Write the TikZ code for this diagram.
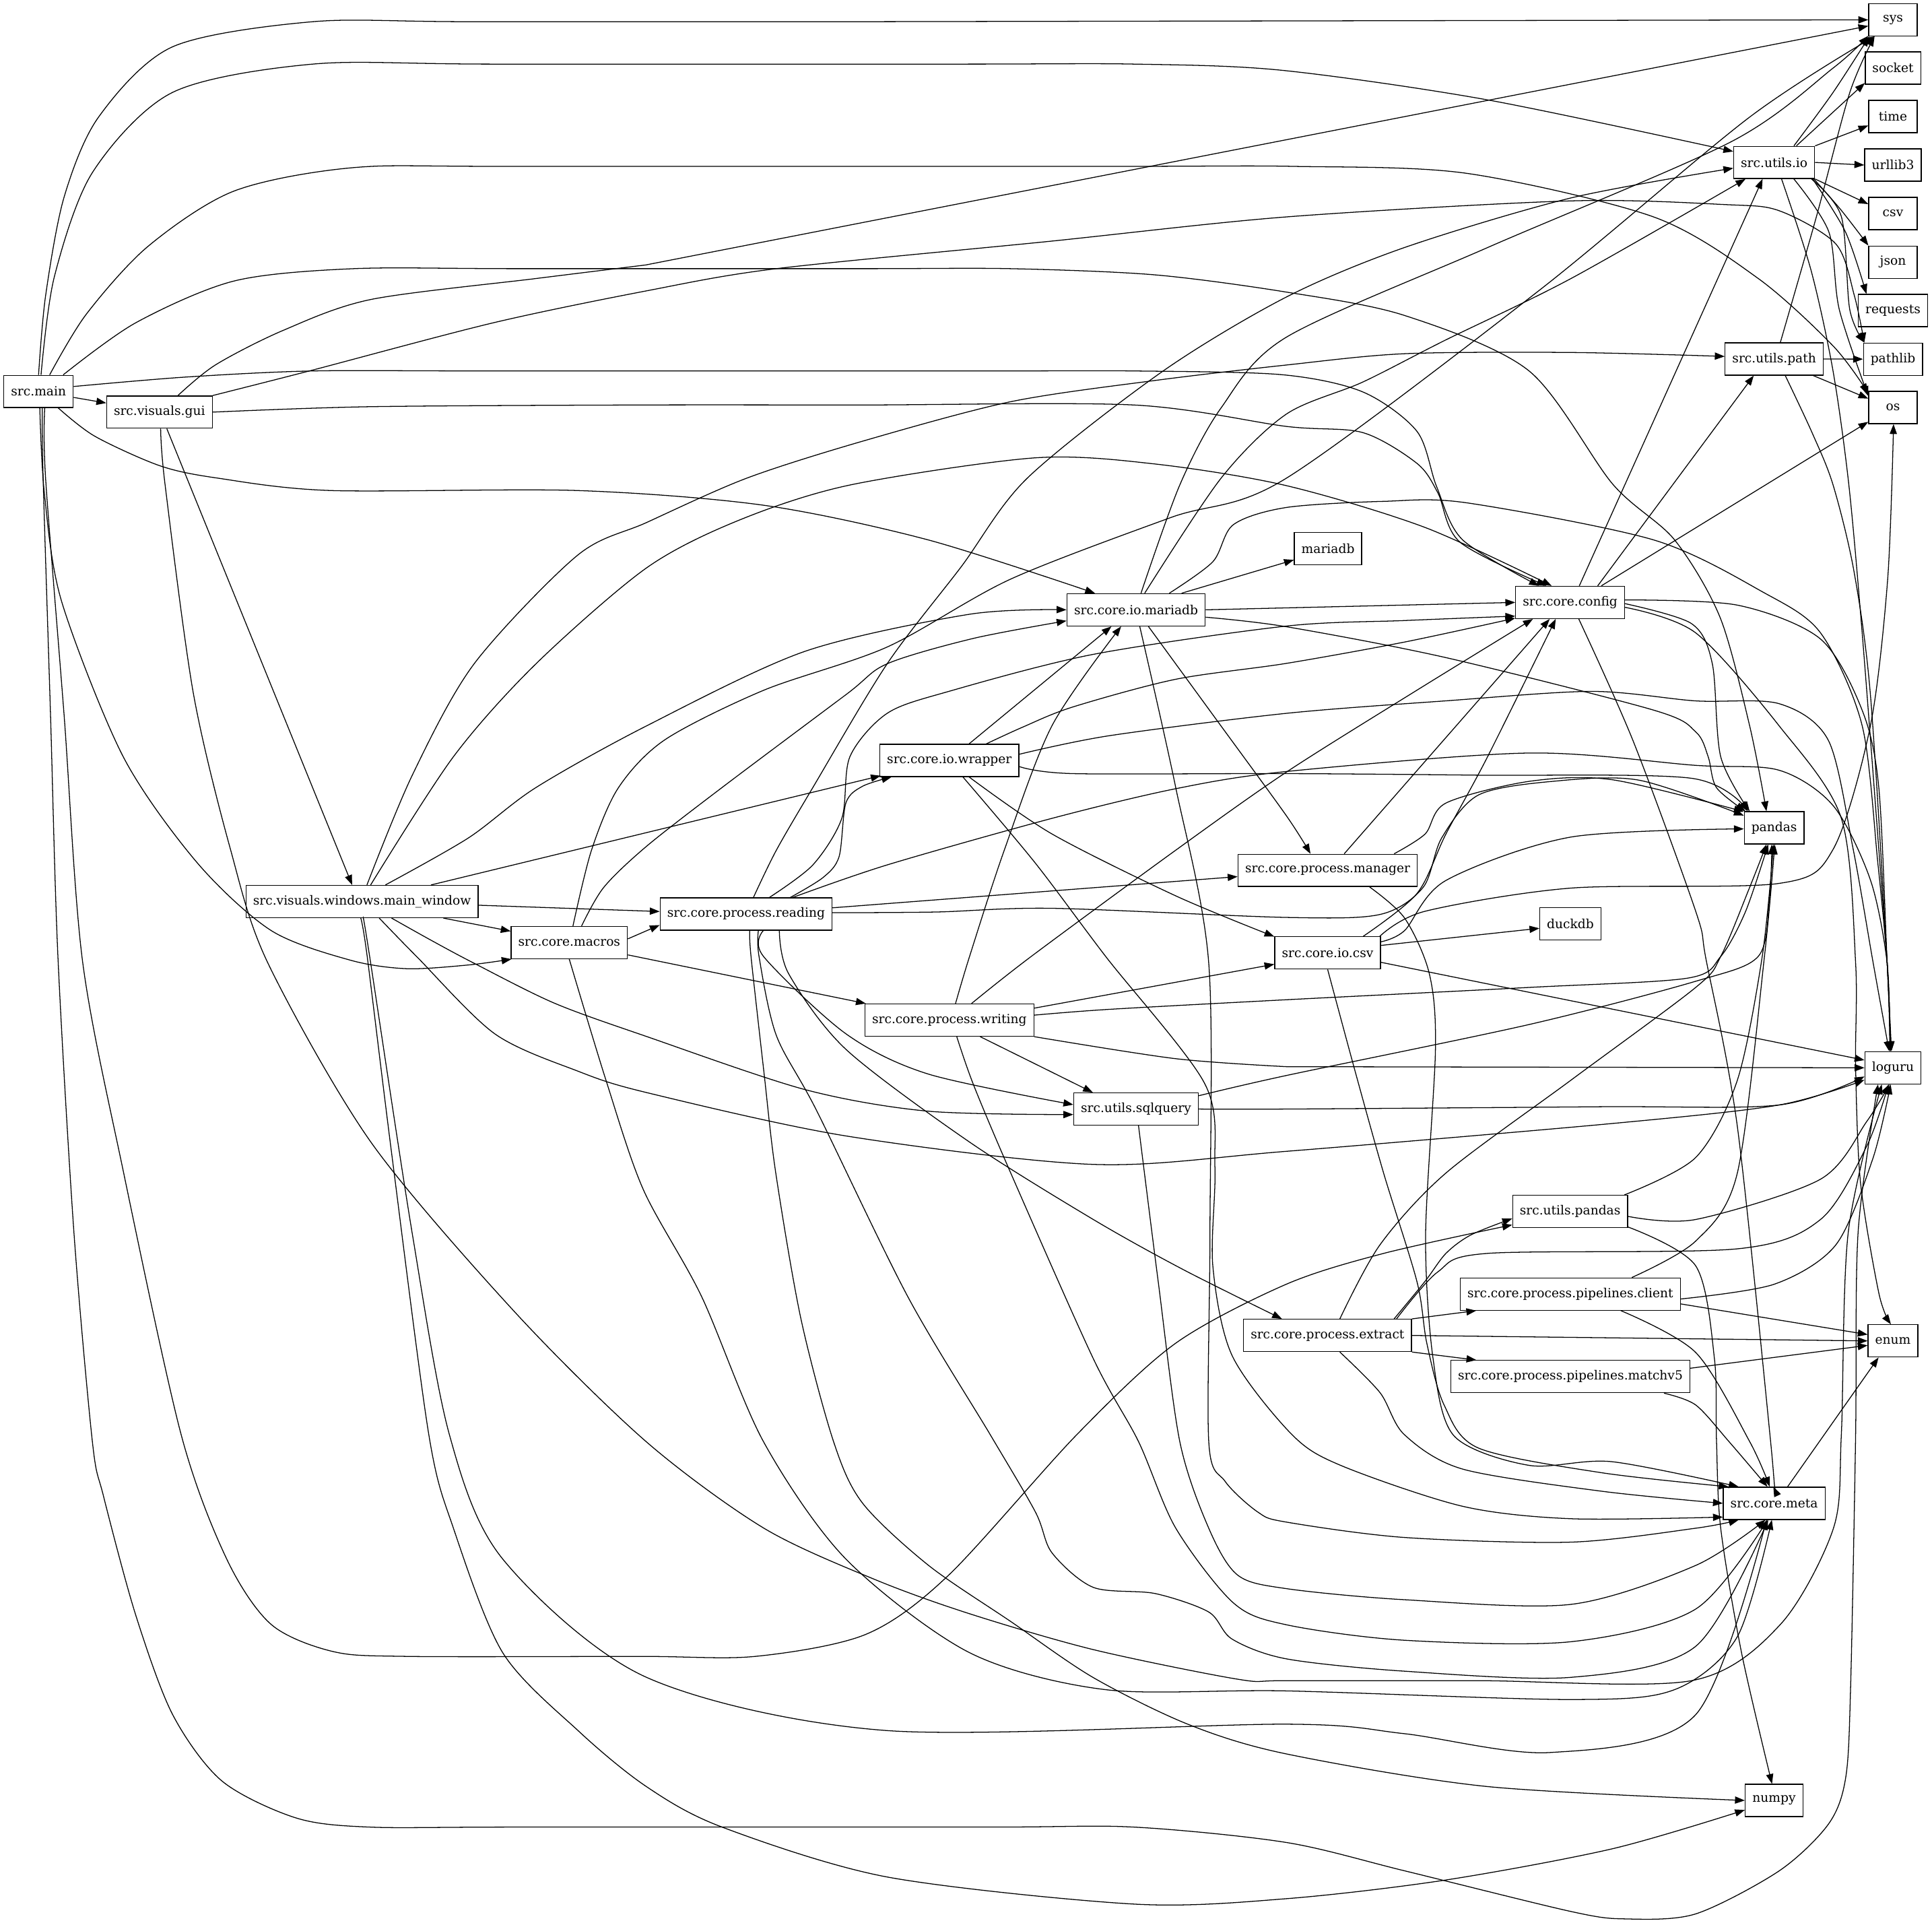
\documentclass[tikz,border=0pt]{standalone}
\usepackage{fontspec}
\setmainfont{DejaVu Serif}
\usetikzlibrary{arrows.meta}
\begin{document}
\begin{tikzpicture}[x=1pt,y=-1pt,
  nd/.style={draw,line width=0.7pt,minimum height=26.2pt,minimum width=39.4pt,inner xsep=5.8pt,inner ysep=0pt,font=\fontsize{10.2}{12}\selectfont},
  edg/.style={draw,line width=0.7pt,-{Triangle[length=8pt,width=5.8pt]}},
  sm/.style={smooth,tension=0.5}]
\fill[white] (0,0) rectangle (1568,1560);
\useasboundingbox (0,0) rectangle (1568,1560);
% nodes
\node[nd] (main) at (31.3,317.6) {src.main};
\node[nd] (gui) at (129.4,334.4) {src.visuals.gui};
\node[nd] (mw) at (293.8,731.5) {src.visuals.windows.main\_window};
\node[nd] (macros) at (462,764.8) {src.core.macros};
\node[nd] (reading) at (605.5,741.6) {src.core.process.reading};
\node[nd] (wrapper) at (770.5,617) {src.core.io.wrapper};
\node[nd] (writing) at (770.5,827.7) {src.core.process.writing};
\node[nd] (iom) at (922,494.8) {src.core.io.mariadb};
\node[nd] (sqlq) at (922,899.9) {src.utils.sqlquery};
\node[nd] (mgr) at (1077.5,706.2) {src.core.process.manager};
\node[nd] (csvm) at (1077.5,773.2) {src.core.io.csv};
\node[nd] (extract) at (1077.4,1083.6) {src.core.process.extract};
\node[nd] (mdb) at (1077.8,445.3) {mariadb};
\node[nd] (config) at (1274.3,488.8) {src.core.config};
\node[nd] (duck) at (1274.5,749.7) {duckdb};
\node[nd] (upd) at (1274.3,983) {src.utils.pandas};
\node[nd] (client) at (1274.4,1050) {src.core.process.pipelines.client};
\node[nd] (match) at (1274.5,1117) {src.core.process.pipelines.matchv5};
\node[nd] (uio) at (1439.9,131.8) {src.utils.io};
\node[nd] (upath) at (1439.9,291.3) {src.utils.path};
\node[nd] (pandas) at (1439.9,671.7) {pandas};
\node[nd] (meta) at (1439.9,1219.8) {src.core.meta};
\node[nd] (numpy) at (1439.8,1460.9) {numpy};
\node[nd] (sys) at (1536.3,16.1) {sys};
\node[nd] (socket) at (1536.3,55.2) {socket};
\node[nd] (time) at (1536.3,94.6) {time};
\node[nd] (urllib) at (1536.3,133.9) {urllib3};
\node[nd] (csvlib) at (1536.3,173.3) {csv};
\node[nd] (json) at (1536.3,212.7) {json};
\node[nd] (requests) at (1536.3,252) {requests};
\node[nd] (pathlib) at (1536.3,291.4) {pathlib};
\node[nd] (os) at (1536.3,330.7) {os};
\node[nd] (loguru) at (1536.3,866.4) {loguru};
\node[nd] (enum) at (1536.3,1088) {enum};
% src.main
\draw[edg] plot[sm] coordinates {(main.north) (37,240) (52,160) (80,95) (140,38) (254,17.6) (380,17.6) (700,17.6)} -- (sys.west);
\draw[edg] plot[sm] coordinates {([xshift=2pt]main.north) (44,225) (75,140) (140,75) (254,52) (400,52) (780,52) (920,52) (1040,57) (1207,81) (uio.165)};
\draw[edg] plot[sm] coordinates {([xshift=9pt]main.north) (70,255) (120,200) (190,155) (287,136) (420,135) (900,135) (1050,135) (1190,140.6) (1342,176) (1427,226) (1488,281) (os.150)};
\draw[edg] plot[sm] coordinates {([xshift=20pt]main.north) (110,262) (190,228) (287,218) (420,218) (700,218) (820,218) (937,223) (1044,237) (1140,256) (1241,301) (1309,393) (1359,438) (1396,501) (1420,589) (pandas.115)};
\draw[edg] plot[sm] coordinates {([yshift=4pt]main.east) (150,306) (254,301) (400,301) (800,301) (920,301) (1040,304) (1106,318) (1150,350) (1166,395) (1187,438) (config.152)};
\draw[edg] (main) -- (gui);
\draw[edg] plot[sm] coordinates {([xshift=16pt]main.south) (77,354) (130,378) (177,388) (268,398) (468,398) (620,410) (753,438) (iom.158)};
\draw[edg] plot[sm] coordinates {([xshift=1pt]main.south) (36,400) (50,488) (100,614) (160,700) (220,755) (284,779) (330,786) (380,783) (macros.196)};
\draw[edg] plot[sm] coordinates {([xshift=5pt]main.south) (37,388) (52,580) (67,780) (100,950) (147,1164) (184,1265) (220,1318) (270,1340) (330,1344) (520,1344) (613,1344) (703,1326) (770,1278) (874,1164) (954,1090) (1044,1042) (1123,1017) (upd.193)};
\draw[edg] plot[sm] coordinates {([xshift=3pt]main.south) (35,388) (41,580) (47,776) (60,1000) (75,1170) (84,1214) (110,1310) (140,1391) (180,1445) (240,1475) (300,1482.5) (420,1482.5) (800,1482.5) (920,1482.5) (1044,1495) (1140,1518) (1275,1551) (1319,1557) (1376,1553) (1444,1518) (1484,1480) (1498,1442) (1502,1366) (1506,1164) (1508,1000) (loguru.228)};
% gui
\draw[edg] plot[sm] coordinates {([xshift=15pt]gui.north) (175,296) (230,268) (301,243) (435,226) (524,215)} -- (sys.194);
\draw[edg] plot[sm] coordinates {(gui.north east) (251,301) (400,262) (524.7,236) (630,218) (850,196) (1044,176) (1275,163) (1400,166) (1444,171) (1490,198) (1505,240) (pathlib.150)};
\draw[edg] plot[sm] coordinates {(gui.east) (300,330) (519,328.6) (700,328.6) (920,328.6) (1044,346) (1106,351) (1150,376) (1167,400) (1185,440) (config.145)};
\draw[edg] ([xshift=6pt]gui.south) -- ([xshift=-8pt]mw.north);
\draw[edg] plot[sm] coordinates {([xshift=1pt]gui.south) (134,393.5) (157,563) (187,689) (217.5,781.6) (301,926.7) (418,1064.8) (524.7,1170) (620,1240) (710,1281.6) (786.9,1309.4) (887.3,1338.5) (1004.4,1362.5) (1044,1363.7) (1200,1363.7) (1372.8,1363.7) (1445,1318) (1488,1240) (1494.4,1164.1) (1500,1000) (loguru.236)};
% main_window
\draw[edg] plot[sm] coordinates {([xshift=4pt]mw.north) (334.6,629) (384.8,538.6) (468.4,450.8) (524.7,424) (606,388) (700,358) (820,326) (937.5,308.7) (1043.8,296.2) (1140,287) (1275,286) (upath.177)};
\draw[edg] plot[sm] coordinates {([xshift=7pt]mw.north) (368,614) (435,538.6) (524.7,460.8) (600,422) (690,393.5) (840,371.5) (937.5,376.5) (1043.8,394) (1156.6,428) (config.138)};
\draw[edg] plot[sm] coordinates {([xshift=19pt]mw.north) (380,680) (435,639) (524.7,589) (653,528.6) (786.9,498.4) (iom.180)};
\draw[edg] ([xshift=56pt]mw.north) -- ([xshift=1pt,yshift=1pt]wrapper.south west);
\draw[edg] ([yshift=-3pt]mw.east) -- ([yshift=2pt]reading.west);
\draw[edg] ([xshift=66pt]mw.south) -- (macros.169);
\draw[edg] plot[sm] coordinates {([xshift=24pt]mw.south) (350,763) (384.8,781.6) (450,814) (524.7,841) (653,884) (753,901.6) (sqlq.185)};
\draw[edg] plot[sm] coordinates {([xshift=14pt]mw.south) (338,776) (401.5,838.8) (468.4,868.9) (524.7,886.5) (686.5,921.7) (887.3,944.8) (1043.8,934.2) (1308.6,911.6) (1443.8,896.6) (loguru.203)};
\draw[edg] plot[sm] coordinates {([xshift=-1pt]mw.south) (298,776) (318,937) (348,1164) (368,1240) (408,1341) (470,1405) (524.7,1449.7) (586,1482.5) (720,1523) (920.7,1545) (1044,1540.6) (1173,1525.5) (1309,1500) (numpy.198)};
\draw[edg] plot[sm] coordinates {([xshift=1pt]mw.south) (300,776) (334.6,1001) (364.7,1164) (408,1265) (524.7,1361) (720,1404.2) (1043.8,1399) (1139.7,1406.7) (1258,1422) (1376,1391.5) (meta.245)};
% macros
\draw[edg] plot[sm] coordinates {([xshift=10pt]macros.north) (490,720) (524.7,686.7) (586,639) (686.5,563.7) (720,538.6) (790,518) (iom.189)};
\draw[edg] plot[sm] coordinates {([xshift=3pt]macros.north) (480,690) (502,639) (540,600) (620,560) (720,525) (820,470) (950,420) (1044,388) (1250,235) (1420,95) (sys.222)};
\draw[edg] ([yshift=3pt]macros.east) -- ([yshift=-9pt]reading.west);
\draw[edg] ([yshift=-10pt]macros.east) -- ([xshift=1pt]writing.north west);
\draw[edg] plot[sm] coordinates {(macros.south) (491.8,876.5) (522,965) (569.4,1052) (619.6,1169.7) (686.5,1265) (786.9,1341) (897.3,1371) (1044,1372) (1275,1379) (1359,1371) (1410,1328) (meta.262)};
% reading
\draw[edg] plot[sm] coordinates {([xshift=6pt]reading.north) (630,690) (659.7,639) (720,538.6) (780,460) (833.7,388) (944,301) (1044,241) (1140,200.8) (1275,160.6) (uio.188)};
\draw[edg] plot[sm] coordinates {([xshift=19pt]reading.north) (659.7,701.8) (683.2,664) (689.8,613.9) (720,578.8) (770,561) (887,531) (1044,508) (1140,503.5) (config.194)};
\draw[edg] plot[sm] coordinates {([xshift=36pt]reading.north) (668,712) (681,695) (686.5,651.6) (700,638) (wrapper.196)};
\draw[edg] ([yshift=5pt]reading.east) -- (mgr.184);
\draw[edg] plot[sm] coordinates {([xshift=14pt]reading.south) (619.6,776) (686.5,838.8) (753.4,871.5) (sqlq.176)};
\draw[edg] plot[sm] coordinates {([xshift=27pt]reading.south) (640,790) (686.5,851.4) (786.9,926.7) (887.3,989.5) (960,1030) (extract.160)};
\draw[edg] plot[sm] coordinates {([xshift=10pt]reading.south) (616,776) (630,840) (663,901.6) (736.7,1052) (803.6,1164) (840.4,1227) (853.8,1260) (887.3,1288) (937.5,1293) (981,1308) (1000,1330) (1044,1346) (1139.7,1356) (1274.9,1361) (1376,1336) (meta.250)};
\draw[edg] plot[sm] coordinates {([xshift=38pt]reading.north) (720,701.8) (853.8,664) (954,640) (1044,626) (1241,611) (1376,621) (1444,625) (1488,654) (1518,714) (1531.6,781.6) (loguru.100)};
\draw[edg] plot[sm] coordinates {([yshift=1pt]reading.east) (760,740) (853.8,737) (1044,744.4) (1120,742) (1155,720) (1170,680) (1200,645) (1260,634) (1330,633) (pandas.158)};
\draw[edg] plot[sm] coordinates {([xshift=3pt]reading.south) (609.5,776) (620,870) (629.6,951.8) (650,1070) (676.5,1169.7) (700,1219.6) (753.4,1270) (820.3,1315.7) (887.3,1361.2) (964.2,1399.1) (1043.8,1423.1) (1207,1449.6) (numpy.180)};
% wrapper
\draw[edg] ([xshift=16pt]wrapper.north) -- (iom.214);
\draw[edg] plot[sm] coordinates {([xshift=30pt]wrapper.north) (830,590) (870.5,573.7) (954,551.2) (1043.8,538.3) (1139.7,521) (config.196)};
\draw[edg] plot[sm] coordinates {([yshift=5pt]wrapper.east) (900,597) (1044,578.8) (1173,568.7) (1292,561) (1376,568.7) (1444,571) (1484,601) (1504,689) (1520,780) (loguru.103)};
\draw[edg] plot[sm] coordinates {([yshift=-5pt]wrapper.east) (870.5,627.7) (1044,627.7) (1200,629) (1372.8,631.5) (pandas.148)};
\draw[edg] plot[sm] coordinates {([xshift=16pt]wrapper.south) (853.8,676.7) (954.2,726.9) (csvm.163)};
\draw[edg] plot[sm] coordinates {([xshift=11pt]wrapper.south) (840,700) (897.3,776) (977.6,879) (986,946.8) (984.3,1027) (1000,1100) (1048.5,1164) (1089,1189.4) (1187,1222.2) (1274.9,1232.3) (meta.195)};
% core.io.mariadb
\draw[edg] plot[sm] coordinates {([xshift=4pt]iom.north) (957.5,393.5) (991,331) (1044,273.6) (1207,201) (1405,115) (1488,55) (sys.213)};
\draw[edg] plot[sm] coordinates {([xshift=7pt]iom.north) (991,388) (1044,336) (1106,310) (1173,276) (1275,226) (uio.210)};
\draw[edg] plot[sm] coordinates {([xshift=27pt]iom.north) (984.3,455.8) (1001,425.7) (1043.8,411.8) (1122.9,406.8) (1190.4,408) (1342.4,438.2) (1430,480) (1477.5,513.5) (1511.3,588.8) (1524,700) (1531.6,781.6) (loguru.97)};
\draw[edg] (iom.20) -- (mdb.198);
\draw[edg] (iom.east) -- (config.west);
\draw[edg] plot[sm] coordinates {([yshift=-6pt]iom.east) (1043.8,508.5) (1173.5,533.6) (1342.4,576.3) (1376.2,593.8) (1386.3,613.9) (1393,639) (pandas.150)};
\draw[edg] plot[sm] coordinates {([xshift=10pt]iom.south) (988,585) (1043.8,661.6) (mgr.136)};
\draw[edg] plot[sm] coordinates {([xshift=3pt]iom.south) (954.2,639) (981,781.6) (982,1000) (981,1169.7) (994.3,1202) (1021,1227) (1043.8,1235) (1139.7,1247.5) (1274.9,1251.3) (1376.2,1240) (meta.205)};
% writing
\draw[edg] plot[sm] coordinates {([xshift=5pt]writing.north) (786.9,776) (815,690) (853.8,588.8) (iom.228)};
\draw[edg] plot[sm] coordinates {([xshift=18pt]writing.north) (837,776) (954,690) (1044,626.5) (1150,560) (config.204)};
\draw[edg] (writing.8) -- (csvm.192);
\draw[edg] plot[sm] coordinates {([yshift=4pt]writing.east) (900,819) (1043.8,811.2) (1241,801.2) (1369.4,793.7) (1396.5,776.1) (1416.7,739.5) (pandas.250)};
\draw[edg] plot[sm] coordinates {(writing.south east) (954,859) (1044,865.5)} -- (loguru.west);
\draw[edg] ([xshift=25pt]writing.south) -- (sqlq.159);
\draw[edg] plot[sm] coordinates {([xshift=6pt]writing.south) (790,880) (820.3,951.8) (887.3,1102.4) (924,1169.7) (954.2,1239.9) (1001,1300.6) (1043.8,1318.3) (1139.7,1330.9) (1274.9,1332.1) (1376.2,1305.6) (meta.248)};
% sqlquery
\draw[edg] plot[sm] coordinates {(sqlq.12) (1043.8,872.7) (1241,831.3) (1376.2,796.2) (1426.9,776.1) (1436,730) (pandas.262)};
\draw[edg] plot[sm] coordinates {(sqlq.east) (1043.8,899.9) (1300,898) (1443.8,896.6) (loguru.197)};
\draw[edg] plot[sm] coordinates {([xshift=2pt]sqlq.south) (940,1040) (957.5,1169.7) (981,1240) (1004.4,1278) (1043.8,1289) (1139.7,1298) (1274.9,1301.8) (1376.2,1270.2) (meta.242)};
% core.io.csv
\draw[edg] (csvm.8) -- (duck.188);
\draw[edg] plot[sm] coordinates {([xshift=-1pt]csvm.north east) (1156.6,739.4) (1274.9,720.6) (1443.8,716.8) (1487.7,689.2) (1518,588.8) (1532,470) (os.272)};
\draw[edg] plot[sm] coordinates {(csvm.25) (1150,725) (1173.5,676.7) (1207.3,614) (config.229)};
\draw[edg] plot[sm] coordinates {([yshift=9pt]csvm.east) (1140,755) (1173.5,714.4) (1274.9,679.2) (pandas.182)};
\draw[edg] (csvm.350) -- (loguru.165);
\draw[edg] plot[sm] coordinates {(csvm.south) (1100,870) (1122.9,951.8) (1150,1040) (1158,1090) (1172,1140) (1200,1175) (1300,1195) (meta.160)};
% manager
\draw[edg] (mgr.45) -- (config.219);
\draw[edg] plot[sm] coordinates {(mgr.14) (1156.6,676.7) (1173.5,651.6) (1241,634) (1308.6,632.7) (pandas.152)};
\draw[edg] plot[sm] coordinates {([xshift=34pt]mgr.south) (1140,745) (1160,790) (1165,851) (1157,1002) (1163,1102) (1180,1165) (1241,1189) (1308,1186) (meta.155)};
% extract
\draw[edg] plot[sm] coordinates {([xshift=10pt]extract.north) (1120,1010) (1173.5,951.8) (1274.9,876.5) (1376.2,801.2) (1396.5,776.1) (1420,720) (pandas.245)};
\draw[edg] plot[sm] coordinates {([xshift=54pt]extract.north) (1156.6,1039.6) (1173.5,1017) (1193.8,1002) (upd.187)};
\draw[edg] plot[sm] coordinates {([xshift=56pt]extract.north) (1166.8,1032.1) (1207.3,1017) (1410,1013.3) (1477.5,989.5) (1515,930) (loguru.255)};
\draw[edg] (extract.north east) -- (client.190);
\draw[edg] (extract.east) -- (enum.west);
\draw[edg] (extract.south east) -- (match.170);
\draw[edg] plot[sm] coordinates {([xshift=10pt]extract.south) (1120,1130) (1139.7,1164) (1187,1192) (1300,1210) (meta.180)};
% utils.pandas
\draw[edg] plot[sm] coordinates {(upd.17) (1376.2,939.2) (1410,876.5) (1430.2,776.1) (pandas.268)};
\draw[edg] plot[sm] coordinates {([yshift=-4pt]upd.east) (1376.2,989.5) (1477.5,956.8) (1515,910) (loguru.258)};
\draw[edg] plot[sm] coordinates {(upd.345) (1376.2,1027.1) (1391.4,1102.4) (1393.1,1169.7) (1396.5,1240) (1413.4,1341) (numpy.97)};
% client
\draw[edg] plot[sm] coordinates {([xshift=50pt]client.north) (1376.2,1007) (1410,951.8) (1432,776.1) (pandas.272)};
\draw[edg] plot[sm] coordinates {([yshift=-4pt]client.east) (1440,1042) (1490,1010) (1520,940) (loguru.262)};
\draw[edg] ([yshift=-8pt]client.east) -- (enum.166);
\draw[edg] plot[sm] coordinates {([xshift=41pt]client.south) (1376.2,1097.4) (1420,1169.7) (meta.105)};
% matchv5
\draw[edg] (match.4) -- (enum.190);
\draw[edg] plot[sm] coordinates {([xshift=76pt]match.south) (1376.2,1140) (1403.2,1169.7) (meta.112)};
% meta
\draw[edg] (meta.51) -- (enum.229);
% config
\draw[edg] (config.61) -- (uio.235);
\draw[edg] (config.31) -- (upath.219);
\draw[edg] (config.28) -- (os.210);
\draw[edg] plot[sm] coordinates {([yshift=2pt]config.east) (1410,491) (1477.5,518.5) (1511.3,576.3) (1524.8,639) (1531.6,781.6) (loguru.95)};
\draw[edg] plot[sm] coordinates {([yshift=-1pt]config.east) (1372.8,506) (1389.7,538.6) (1396.5,614) (pandas.146)};
\draw[edg] plot[sm] coordinates {([yshift=-4pt]config.east) (1376.2,513.5) (1443.8,588.8) (1494.4,664) (1506,781.6) (1506,866) (1510,960) (1525,1050) (enum.97)};
\draw[edg] plot[sm] coordinates {([xshift=7pt]config.south) (1325.5,601.4) (1376.2,739.4) (1384.7,779) (1410,914) (1437,1169.7) (meta.93)};
% utils.io
\draw[edg] plot[sm] coordinates {([xshift=16pt]uio.north) (1487.7,75) (sys.215)};
\draw[edg] ([xshift=18pt]uio.north) -- (socket.208);
\draw[edg] (uio.north east) -- (time.200);
\draw[edg] (uio.east) -- (urllib.west);
\draw[edg] (uio.south east) -- (csvlib.159);
\draw[edg] plot[sm] coordinates {([xshift=-1pt]uio.south east) (1494.4,170.7) (json.146)};
\draw[edg] plot[sm] coordinates {([xshift=-2pt]uio.south east) (1497.8,188.3) (requests.148)};
\draw[edg] plot[sm] coordinates {([xshift=-3pt]uio.south east) (1494.4,175.7) (1501.2,251) (pathlib.150)};
\draw[edg] plot[sm] coordinates {([xshift=16pt]uio.south) (1484.3,188.3) (1492.7,251) (os.155)};
\draw[edg] plot[sm] coordinates {([xshift=6pt]uio.south) (1470,220) (1487.7,301.2) (1500.5,393.5) (1511.3,513.5) (1524.8,689) (1531.6,781.6) (loguru.98)};
% utils.path
\draw[edg] plot[sm] coordinates {([xshift=5pt]upath.north) (1474.2,175.7) (1501.2,75.3) (sys.222)};
\draw[edg] (upath.east) -- (pathlib.west);
\draw[edg] (upath.337) -- (os.160);
\draw[edg] plot[sm] coordinates {([xshift=9pt]upath.south) (1470.8,351.4) (1487.7,393.5) (1504.6,463.3) (1518,563.7) (1531.6,781.6) (loguru.101)};
\end{tikzpicture}
\end{document}
